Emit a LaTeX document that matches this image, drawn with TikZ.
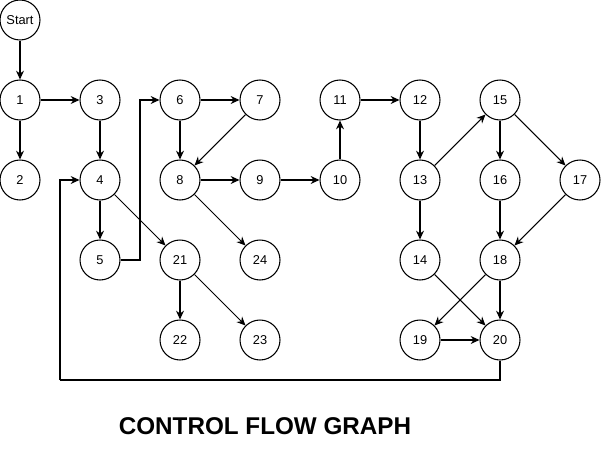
\documentclass[tikz,border=0pt]{standalone}
\usepackage{fontspec}
\setmainfont{Liberation Sans}
\usetikzlibrary{arrows.meta}
\begin{document}
\begin{tikzpicture}[x=0.02cm, y=-0.02cm]

\tikzstyle{blk}=[circle, draw, line width=0.6pt, minimum size=0.8cm, inner sep=0pt, font=\fontsize{7.3}{8}\selectfont]
\tikzstyle{arrow}=[-{Stealth[length=5pt,width=4.5pt]}, line width=0.6pt]
\tikzstyle{jump}=[line width=0.6pt]

\useasboundingbox (0,0) rectangle (601,456);

\node (St) [blk] at (20,20)   {Start};
\node (n1) [blk] at (20,100)  {1};
\node (n2) [blk] at (20,180)  {2};
\node (n3) [blk] at (100,100) {3};
\node (n4) [blk] at (100,180) {4};
\node (n5) [blk] at (100,260) {5};
\node (n6) [blk] at (180,100) {6};
\node (n7) [blk] at (260,100) {7};
\node (n8) [blk] at (180,180) {8};
\node (n9) [blk] at (260,180) {9};
\node (n10) [blk] at (340,180) {10};
\node (n11) [blk] at (340,100) {11};
\node (n12) [blk] at (420,100) {12};
\node (n13) [blk] at (420,180) {13};
\node (n14) [blk] at (420,260) {14};
\node (n15) [blk] at (500,100) {15};
\node (n16) [blk] at (500,180) {16};
\node (n17) [blk] at (580,180) {17};
\node (n18) [blk] at (500,260) {18};
\node (n19) [blk] at (420,340) {19};
\node (n20) [blk] at (500,340) {20};
\node (n21) [blk] at (180,260) {21};
\node (n22) [blk] at (180,340) {22};
\node (n23) [blk] at (260,340) {23};
\node (n24) [blk] at (260,260) {24};

\coordinate (jog) at (140,260);
\coordinate (back) at (60,380);

\draw [arrow] (St) -- (n1);
\draw [arrow] (n1) -- (n3);
\draw [arrow] (n1) -- (n2);
\draw [arrow] (n3) -- (n4);
\draw [arrow] (n4) -- (n5);
\draw [arrow] (n4) -- (n21);
\draw [arrow] (n5) -- (jog) |- (n6);
\draw [arrow] (n6) -- (n7);
\draw [arrow] (n6) -- (n8);
\draw [arrow] (n7) -- (n8);
\draw [arrow] (n8) -- (n9);
\draw [arrow] (n8) -- (n24);
\draw [arrow] (n9) -- (n10);
\draw [arrow] (n10) -- (n11);
\draw [arrow] (n11) -- (n12);
\draw [arrow] (n12) -- (n13);
\draw [arrow] (n13) -- (n15);
\draw [arrow] (n13) -- (n14);
\draw [arrow] (n15) -- (n16);
\draw [arrow] (n15) -- (n17);
\draw [arrow] (n16) -- (n18);
\draw [arrow] (n17) -- (n18);
\draw [arrow] (n14) -- (n20);
\draw [arrow] (n18) -- (n19);
\draw [arrow] (n18) -- (n20);
\draw [arrow] (n19) -- (n20);
\draw [arrow] (n21) -- (n22);
\draw [arrow] (n21) -- (n23);
\draw [jump] (n20) |- (back);
\draw [arrow] (back) |- (n4);

\node (title) at (265,426) {\fontsize{13.8}{17}\selectfont\bfseries CONTROL FLOW GRAPH};

\end{tikzpicture}
\end{document}
